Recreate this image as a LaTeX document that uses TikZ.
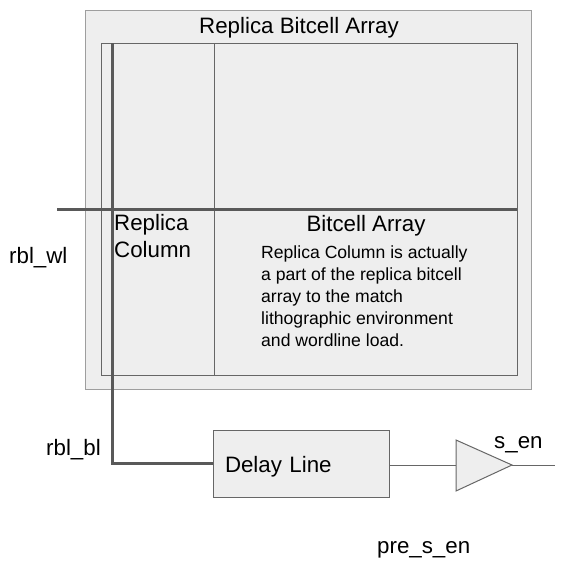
\documentclass[tikz,border=0pt]{standalone}
\usepackage{fontspec}
\setmainfont{Liberation Sans}
\definecolor{boxfill}{HTML}{EEEEEE}
\definecolor{outerline}{HTML}{9E9E9E}
\definecolor{innerline}{HTML}{666666}
\definecolor{wire}{HTML}{595959}
\begin{document}
\begin{tikzpicture}[x=1pt,y=-1pt,
  box/.style={draw=#1,fill=boxfill,line width=1pt,inner sep=0pt,outer sep=0pt},
  thickwire/.style={draw=wire,line width=3pt},
  thinwire/.style={draw=innerline,line width=1pt},
  big/.style={font=\fontsize{22.3}{27.5}\selectfont,inner sep=0pt},
  small/.style={font=\fontsize{17.6}{21.9}\selectfont,inner sep=0pt}]
\useasboundingbox (0,0) rectangle (562,566);
% boxes
\node[box=outerline,minimum width=446pt,minimum height=379pt] (outer) at (308,199.5) {};
\node[box=innerline,minimum width=416pt,minimum height=332pt] (inner) at (309,209) {};
\coordinate (divtop) at (214,43);
\coordinate (divbot) at (214,375);
\draw[thinwire] (divtop) -- (divbot);
% texts in array
\node[big,anchor=base] (title) at (299,33) {Replica Bitcell Array};
\node[big,anchor=base] (bitcell) at (366,231) {Bitcell Array};
\node[big,anchor=north west,align=left] (repcol) at (114,214) {Replica\\Column};
\node[small,anchor=north west,align=left] (note) at (261,246) {Replica Column is actually\\a part of the replica bitcell\\array to the match\\lithographic environment\\and wordline load.};
% delay line
\node[box=innerline,minimum width=176pt,minimum height=67pt,big,text width=152pt,align=left,text height=17pt,text depth=0pt] (delay) at (301,463.5) {Delay Line};
% wordline
\coordinate (wlstart) at (57,209);
\draw[thickwire] (wlstart) -- (wlstart -| inner.east);
% bitline
\coordinate (bltop) at (112,43);
\draw[thickwire] (bltop) -- (bltop |- delay.west) -- (delay.west);
% buffer
\coordinate (triin) at (456,465);
\coordinate (tritop) at (456,440);
\coordinate (tribot) at (456,491);
\coordinate (triout) at (512,465);
\coordinate (outend) at (555,465);
\draw[thinwire] (delay.east |- triin) -- (triin);
\draw[thinwire,fill=boxfill] (tritop) -- (triout) -- (tribot) -- cycle;
\draw[thinwire] (triout) -- (outend);
% labels
\node[big,anchor=base west] (wllab) at (9,263) {rbl\_wl};
\node[big,anchor=base west] (bllab) at (46,455) {rbl\_bl};
\node[big,anchor=base west] (senlab) at (494,448) {s\_en};
\node[big,anchor=base west] (prelab) at (377,553) {pre\_s\_en};
\end{tikzpicture}
\end{document}
